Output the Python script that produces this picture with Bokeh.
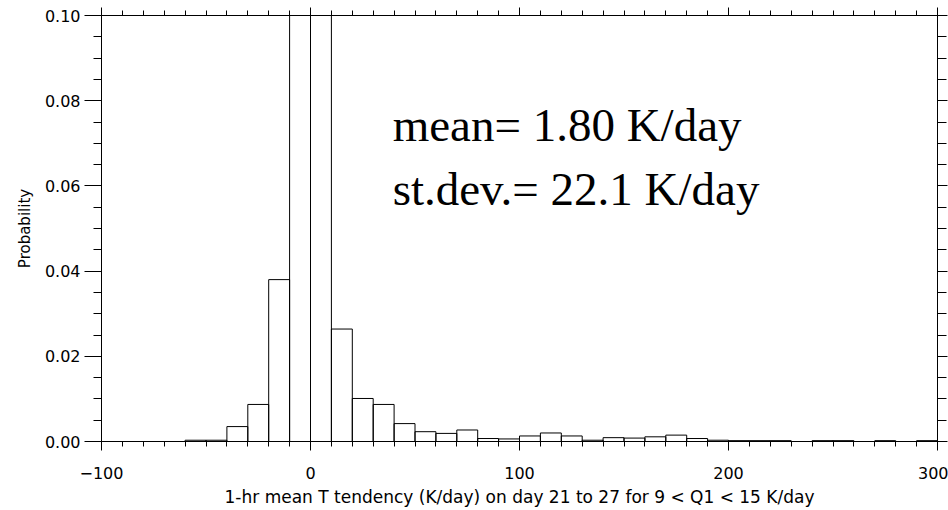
from bokeh.plotting import figure
from bokeh.models import FixedTicker, LinearAxis, Label, ColumnDataSource, NumeralTickFormatter, Range1d
from bokeh.embed import file_html
from bokeh.resources import INLINE

# ---- data ----
bin_left = [-60, -50, -40, -30, -20, -10, 0, 10, 20, 30, 40, 50, 60, 70, 80, 90,
            100, 110, 120, 130, 140, 150, 160, 170, 180, 190, 200, 210, 220, 230,
            240, 250, 260, 270, 280, 290]
bin_right = [-50, -40, -30, -20, -10, 0, 10, 20, 30, 40, 50, 60, 70, 80, 90, 100,
             110, 120, 130, 140, 150, 160, 170, 180, 190, 200, 210, 220, 230, 240,
             250, 260, 270, 280, 290, 300]
probability = [0.0003, 0.0003, 0.0035, 0.0087, 0.0380, 0.4200, 0.4600, 0.0264,
               0.0101, 0.0087, 0.0042, 0.0023, 0.0019, 0.0027, 0.0007, 0.0006,
               0.0013, 0.0020, 0.0013, 0.0003, 0.0009, 0.0008, 0.0011, 0.0015,
               0.0007, 0.0003, 0.0002, 0.0002, 0.0002, 0.0, 0.0002, 0.0002,
               0.0, 0.0002, 0.0, 0.0002]

x_major_ticks = [-100, 0, 100, 200, 300]
x_minor_ticks = list(range(-100, 301, 10))
y_major_ticks = [0.0, 0.02, 0.04, 0.06, 0.08, 0.10]
y_minor_ticks = [i * 0.005 for i in range(21)]

mean_val = 1.80
std_val = 22.1
x_title = "1-hr mean T tendency (K/day) on day 21 to 27 for 9 < Q1 < 15 K/day"
y_title = "Probability"

src = ColumnDataSource(dict(left=bin_left, right=bin_right, top=probability,
                            bottom=[0.0] * len(probability)))

p = figure(width=948, height=510, x_range=Range1d(-100, 300), y_range=Range1d(0, 0.1),
           output_backend="svg", toolbar_location=None,
           min_border_left=101, min_border_right=11, min_border_top=15, min_border_bottom=69)
p.outline_line_color = None
p.grid.visible = False
p.background_fill_color = "white"
p.border_fill_color = "white"

p.quad(left="left", right="right", top="top", bottom="bottom", source=src,
       fill_color=None, line_color="black", line_width=1)

xt = FixedTicker(ticks=x_major_ticks, minor_ticks=x_minor_ticks)
yt = FixedTicker(ticks=y_major_ticks, minor_ticks=y_minor_ticks)

def style(ax, major_out, minor_out):
    ax.axis_line_color = "black"
    ax.axis_line_width = 1
    ax.major_tick_line_color = "black"
    ax.minor_tick_line_color = "black"
    ax.major_tick_in = 0
    ax.minor_tick_in = 0
    ax.major_tick_out = major_out
    ax.minor_tick_out = minor_out

xa = p.xaxis[0]
xa.ticker = xt
style(xa, 9, 5)
xa.major_label_overrides = {-100: "\u2212100"}
xa.major_label_text_font = "DejaVu Sans"
xa.major_label_text_font_size = "16px"
xa.major_label_text_color = "black"
xa.major_label_standoff = 16
xa.axis_label = x_title
xa.axis_label_text_font = "DejaVu Sans"
xa.axis_label_text_font_size = "17px"
xa.axis_label_text_font_style = "normal"
xa.axis_label_text_color = "black"
xa.axis_label_standoff = 5

ya = p.yaxis[0]
ya.ticker = yt
style(ya, 17, 8)
ya.formatter = NumeralTickFormatter(format="0.00")
ya.major_label_text_font = "DejaVu Sans"
ya.major_label_text_font_size = "16px"
ya.major_label_text_color = "black"
ya.major_label_standoff = 4
ya.axis_label = y_title
ya.axis_label_text_font = "DejaVu Sans"
ya.axis_label_text_font_size = "15px"
ya.axis_label_text_font_style = "normal"
ya.axis_label_text_color = "black"
ya.axis_label_standoff = 8

top_ax = LinearAxis(ticker=FixedTicker(ticks=x_major_ticks, minor_ticks=x_minor_ticks))
style(top_ax, 8, 5)
top_ax.major_label_overrides = {t: "" for t in x_major_ticks}
top_ax.major_label_standoff = 0
p.add_layout(top_ax, "above")

right_ax = LinearAxis(ticker=FixedTicker(ticks=y_major_ticks, minor_ticks=y_minor_ticks))
style(right_ax, 10, 9)
right_ax.major_label_overrides = {t: "" for t in y_major_ticks}
right_ax.major_label_standoff = 0
p.add_layout(right_ax, "right")

p.add_layout(Label(x=39.3, y=0.0742, text=f"mean= {mean_val:.2f} K/day",
                   text_font="Liberation Serif", text_font_size="47px",
                   text_color="black", text_baseline="alphabetic", text_align="left"))
p.add_layout(Label(x=39.3, y=0.0592, text=f"st.dev.= {std_val:.1f} K/day",
                   text_font="Liberation Serif", text_font_size="47px",
                   text_color="black", text_baseline="alphabetic", text_align="left"))

open("out.html", "w").write(file_html(p, INLINE))
